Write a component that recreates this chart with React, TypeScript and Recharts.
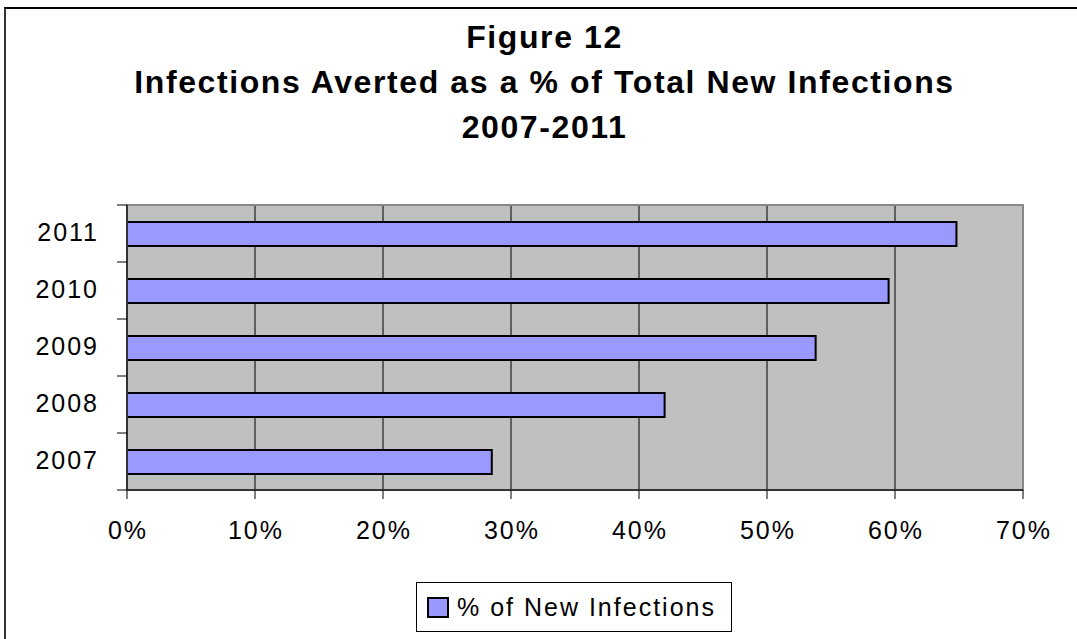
import React from 'react';
import { BarChart, Bar, XAxis, YAxis, CartesianGrid, ReferenceArea } from 'recharts';

const years = ['2007', '2008', '2009', '2010', '2011'];
const avertedShare = [0.285, 0.42, 0.538, 0.595, 0.648];
const shareTicks = [0, 0.1, 0.2, 0.3, 0.4, 0.5, 0.6, 0.7];
const titleLines = ['Figure 12', 'Infections Averted as a % of Total New Infections', '2007-2011'];
const seriesName = '% of New Infections';

const W = 1077;
const H = 639;
const FONT = '"Liberation Sans", Arial, sans-serif';
const MARGIN = { top: 205, right: 54, bottom: 89, left: 0 };
const X_AXIS_H = 60;
const Y_AXIS_W = 127;
const Y_TICK = 10;
const Y_TICK_GAP = 20;
const LABEL_SPACING = 2;
const PLOT_H = H - MARGIN.top - MARGIN.bottom - X_AXIS_H;
const BAND = PLOT_H / years.length;

const pct = (v: number) => `${Math.round(v * 100)}%`;

// Excel-style category axis: labels in the middle, tick marks between categories
const YearTick = (props: any) => {
  const { x, y, payload } = props;
  const axisX = x + Y_TICK + Y_TICK_GAP;
  const isBottom = payload.value === years[0];
  return (
    <g>
      <line x1={axisX - Y_TICK} x2={axisX} y1={y - BAND / 2} y2={y - BAND / 2} stroke="#000" />
      {isBottom && (
        <line x1={axisX - Y_TICK} x2={axisX} y1={y + BAND / 2} y2={y + BAND / 2} stroke="#000" />
      )}
      <text
        x={x + LABEL_SPACING}
        y={y - 2}
        textAnchor="end"
        dominantBaseline="central"
        fontSize={25}
        fontFamily={FONT}
        letterSpacing={LABEL_SPACING}
        fill="#000"
      >
        {payload.value}
      </text>
    </g>
  );
};

const PctTick = (props: any) => {
  const { x, y, payload } = props;
  return (
    <text
      x={x + LABEL_SPACING / 2}
      y={y}
      dy="0.71em"
      textAnchor="middle"
      fontSize={25}
      fontFamily={FONT}
      letterSpacing={LABEL_SPACING}
      fill="#000"
    >
      {pct(payload.value)}
    </text>
  );
};

export default function App() {
  const data = years.map((year, i) => ({ year, share: avertedShare[i] }));

  return (
    <div style={{ position: 'absolute', left: 0, top: 0, width: W, height: H, background: '#fff', overflow: 'hidden', fontFamily: FONT }}>
      <div style={{ position: 'absolute', left: 4, top: 7, right: 0, bottom: 0, borderLeft: '2px solid #333', borderTop: '2px solid #000' }} />

      <div style={{ position: 'absolute', left: 6, top: 15, width: W, textAlign: 'center', fontWeight: 'bold', fontSize: 32, lineHeight: '45px', letterSpacing: 1.6, color: '#000' }}>
        {titleLines.map((line) => (
          <div key={line}>{line}</div>
        ))}
      </div>

      <div style={{ position: 'absolute', left: 0, top: 0 }}>
        <BarChart width={W} height={H} layout="vertical" data={data} margin={MARGIN} barCategoryGap={0}>
          <CartesianGrid horizontal={false} stroke="#000" fill="#c0c0c0" fillOpacity={1} />
          <ReferenceArea x1={0} x2={0.7} fill="none" stroke="#888" strokeWidth={2} />
          <XAxis
            type="number"
            dataKey="share"
            domain={[0, 0.7]}
            ticks={shareTicks}
            height={X_AXIS_H}
            tickSize={9}
            tickMargin={22}
            axisLine={{ stroke: '#333', strokeWidth: 2 }}
            tickLine={{ stroke: '#000' }}
            tick={<PctTick />}
          />
          <YAxis
            type="category"
            dataKey="year"
            reversed
            width={Y_AXIS_W}
            interval={0}
            tickSize={Y_TICK}
            tickMargin={Y_TICK_GAP}
            tickLine={false}
            axisLine={{ stroke: '#333', strokeWidth: 2 }}
            tick={<YearTick />}
          />
          <Bar dataKey="share" name={seriesName} fill="#9999ff" stroke="#000" strokeWidth={2} barSize={24} isAnimationActive={false} />
        </BarChart>
      </div>

      <div style={{ position: 'absolute', left: 416, top: 582, width: 314, height: 48, border: '1px solid #000', display: 'flex', alignItems: 'center', background: '#fff' }}>
        <span style={{ display: 'inline-block', width: 18, height: 17, marginLeft: 10, marginRight: 8, background: '#9999ff', border: '2px solid #000' }} />
        <span style={{ fontSize: 25, color: '#000', letterSpacing: 2 }}>{seriesName}</span>
      </div>
    </div>
  );
}
